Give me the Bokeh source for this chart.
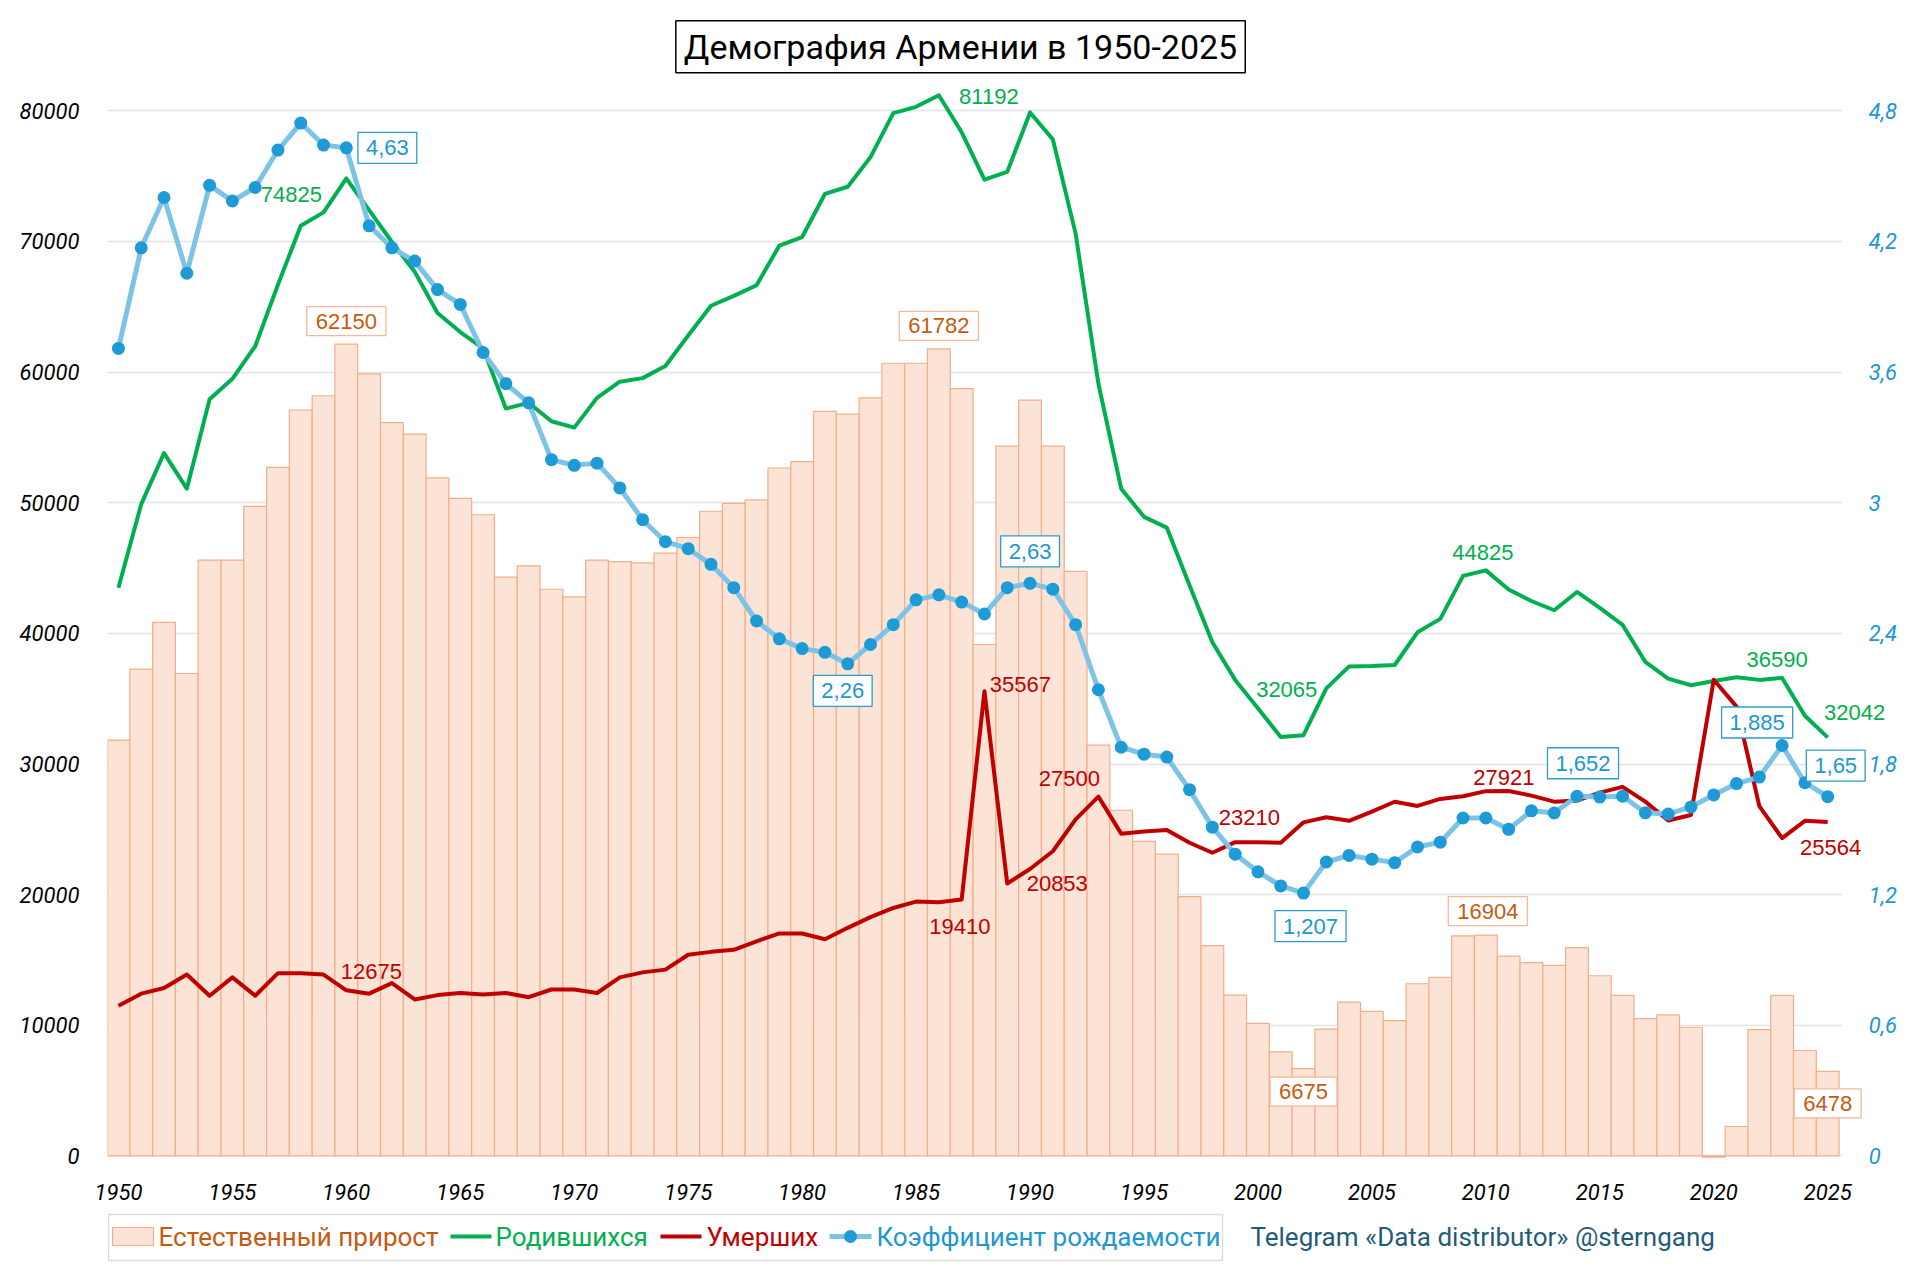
from bokeh.plotting import figure
from bokeh.models import (Range1d, LinearAxis, FixedTicker, NumeralTickFormatter, Label,
                          ColumnDataSource, BoxAnnotation)
from bokeh.layouts import column
from bokeh.embed import file_html
from bokeh.resources import INLINE
from bokeh.core.properties import value

# ---------------- data ----------------
years = list(range(1950, 2026))

births = [43490, 49890, 53800, 51080, 57920, 59490, 61980, 66700, 71200, 72230,
          74825, 72400, 69960, 67680, 64530, 63070, 61820, 57210, 57650, 56240,
          55750, 58030, 59270, 59540, 60470, 62800, 65080, 65840, 66650, 69690,
          70340, 73640, 74190, 76460, 79830, 80310, 81192, 78360, 74730, 75330,
          79880, 77820, 70600, 59110, 51080, 48920, 48100, 43660, 39320, 36440,
          34270, 32065, 32210, 35790, 37470, 37500, 37580, 40080, 41110, 44400,
          44825, 43360, 42480, 41770, 43170, 41950, 40650, 37810, 36540, 36030,
          36350, 36640, 36440, 36590, 33700, 32042]

deaths = [11500, 12420, 12850, 13880, 12260, 13670, 12260, 13990, 13990, 13880,
          12675, 12420, 13230, 11980, 12310, 12470, 12360, 12470, 12150, 12740,
          12740, 12470, 13670, 14050, 14260, 15400, 15620, 15780, 16430, 17030,
          17030, 16590, 17460, 18280, 18980, 19470, 19410, 19630, 35567, 20853,
          21960, 23320, 25760, 27500, 24670, 24840, 24950, 23970, 23210, 24020,
          24020, 23970, 25535, 25920, 25650, 26360, 27110, 26790, 27330, 27530,
          27921, 27930, 27580, 27120, 27200, 27810, 28250, 27120, 25680, 26100,
          36450, 34390, 26780, 24320, 25650, 25564]

natural = [31830, 37260, 40840, 36930, 45610, 45610, 49730, 52710, 57100, 58190,
           62150, 59870, 56130, 55260, 51900, 50330, 49080, 44310, 45170, 43380,
           42790, 45610, 45500, 45390, 46150, 47340, 49350, 49950, 50220, 52660,
           53150, 56990, 56780, 58030, 60680, 60680, 61782, 58730, 39150, 54340,
           57860, 54340, 44740, 31450, 26460, 24080, 23100, 19850, 16100, 12310,
           10140, 7970, 6675, 9710, 11770, 11060, 10360, 13180, 13670, 16850,
           16904, 15290, 14800, 14590, 15940, 13790, 12290, 10510, 10790, 9850,
           -100, 2250, 9660, 12290, 8070, 6478]

tfr = [3.709, 4.171, 4.402, 4.054, 4.458, 4.386, 4.448, 4.620, 4.744, 4.643,
       4.63, 4.272, 4.171, 4.110, 3.979, 3.911, 3.690, 3.547, 3.459, 3.198,
       3.172, 3.182, 3.068, 2.922, 2.821, 2.789, 2.717, 2.610, 2.457, 2.375,
       2.330, 2.313, 2.26, 2.349, 2.440, 2.554, 2.577, 2.544, 2.489, 2.610,
       2.63, 2.603, 2.440, 2.141, 1.877, 1.845, 1.832, 1.682, 1.510, 1.386,
       1.305, 1.240, 1.207, 1.350, 1.380, 1.363, 1.347, 1.419, 1.441, 1.552,
       1.552, 1.500, 1.585, 1.575, 1.652, 1.648, 1.652, 1.576, 1.570, 1.603,
       1.658, 1.710, 1.740, 1.885, 1.714, 1.65]

year_ticks = [1950, 1955, 1960, 1965, 1970, 1975, 1980, 1985, 1990, 1995,
              2000, 2005, 2010, 2015, 2020, 2025]
left_ticks = [0, 10000, 20000, 30000, 40000, 50000, 60000, 70000, 80000]
right_ticks = [0, 0.6, 1.2, 1.8, 2.4, 3.0, 3.6, 4.2, 4.8]
right_tick_labels = ["0", "0,6", "1,2", "1,8", "2,4", "3", "3,6", "4,2", "4,8"]

title = "Демография Армении в 1950-2025"
legend_names = ["Естественный прирост", "Родившихся", "Умерших", "Коэффициент рождаемости"]
credit = "Telegram «Data distributor» @sterngang"

# annotated points (year, label) and label offsets in px (dy: positive = down)
bar_lab_years = [1960, 1986, 2002, 2010, 2025]
bar_lab_text = ["62150", "61782", "6675", "16904", "6478"]
bar_lab_dx = [0, 0, 0, 2, 0]
bar_lab_dy = [-23, -23, 23, -24, 32]

birth_lab_years = [1960, 1986, 2001, 2010, 2023, 2025]
birth_lab_text = ["74825", "81192", "32065", "44825", "36590", "32042"]
birth_lab_dx = [-55, 50, 6, -3, -5, 27]
birth_lab_dy = [16, 1, -48, -18, -18, -25]

death_lab_years = [1960, 1986, 1988, 1989, 1993, 1998, 2010, 2025]
death_lab_text = ["12675", "19410", "35567", "20853", "27500", "23210", "27921", "25564"]
death_lab_dx = [25, 21, 36, 50, -29, 37, 18, 3]
death_lab_dy = [-19, 24, -7, 0, -18, -35, -14, 26]

tfr_lab_years = [1960, 1982, 1990, 2002, 2014, 2023, 2025]
tfr_lab_text = ["4,63", "2,26", "2,63", "1,207", "1,652", "1,885", "1,65"]
tfr_lab_dx = [41, -5, 0, 7, 6, -25, 8]
tfr_lab_dy = [0, 27, -32, 33, -33, -23, -31]

# ---------------- styles ----------------
C_BAR_FILL = "#FBE3D6"
C_BAR_LINE = "#F2AE8B"
C_BAR_TEXT = "#C55A11"
C_GREEN = "#00B050"
C_RED = "#C00000"
C_BLUE_LINE = "#7DC3E6"
C_BLUE_DOT = "#1E9AD6"
C_BLUE_TEXT = "#2196D3"
C_GRID = "#E3E3E3"

LBL_FONT = "Liberation Sans"
AX_FONT = "Roboto"

X_START = 1949.52
X_PLOT_END = 2025.66     # where the chart's plot area ends (right axis position)
X_FRAME_END = 2028.37    # extra room on the right for the value labels
Y_START = -1500
Y_END = 87300
TFR_PER_UNIT = 4.8 / 80000   # right axis 4,8 aligned with left axis 80000

p = figure(width=1904, height=1205,
           x_range=Range1d(X_START, X_FRAME_END), y_range=Range1d(Y_START, Y_END),
           output_backend="svg", toolbar_location=None,
           min_border_left=107, min_border_right=0, min_border_top=15, min_border_bottom=30)
p.extra_y_ranges = {"tfr": Range1d(Y_START * TFR_PER_UNIT, Y_END * TFR_PER_UNIT)}
p.outline_line_color = None
p.background_fill_color = "white"
p.border_fill_color = "white"

p.xgrid.visible = False
p.ygrid.ticker = FixedTicker(ticks=left_ticks)
p.ygrid.grid_line_color = C_GRID
p.ygrid.grid_line_width = 1.5
# grid lines stop at the plot area's right edge
p.add_layout(BoxAnnotation(left=X_PLOT_END, fill_color="white", fill_alpha=1.0,
                           line_alpha=0, level="underlay"))

# axes
p.xaxis.ticker = FixedTicker(ticks=year_ticks)
p.xaxis.axis_line_color = None
p.xaxis.major_tick_line_color = None
p.xaxis.minor_tick_line_color = None
p.xaxis.major_label_standoff = 2
p.xaxis.major_label_text_font = AX_FONT
p.xaxis.major_label_text_font_style = "italic"
p.xaxis.major_label_text_font_size = "22px"
p.xaxis.major_label_text_color = "black"

p.yaxis.ticker = FixedTicker(ticks=left_ticks)
p.yaxis.formatter = NumeralTickFormatter(format="0")
p.yaxis.axis_line_color = None
p.yaxis.major_tick_line_color = None
p.yaxis.minor_tick_line_color = None
p.yaxis.major_label_standoff = 22
p.yaxis.major_label_text_font = AX_FONT
p.yaxis.major_label_text_font_style = "italic"
p.yaxis.major_label_text_font_size = "22px"
p.yaxis.major_label_text_color = "black"

raxis = LinearAxis(y_range_name="tfr", ticker=FixedTicker(ticks=right_ticks),
                   fixed_location=X_PLOT_END,
                   major_label_overrides={t: s for t, s in zip(right_ticks, right_tick_labels)})
raxis.axis_line_color = None
raxis.major_tick_line_color = None
raxis.minor_tick_line_color = None
raxis.major_label_standoff = 20
raxis.major_label_text_align = "left"
raxis.major_label_text_font = AX_FONT
raxis.major_label_text_font_style = "italic"
raxis.major_label_text_font_size = "22px"
raxis.major_label_text_color = C_BLUE_TEXT
p.add_layout(raxis, "right")

src = ColumnDataSource(dict(year=years, births=births, deaths=deaths, natural=natural, tfr=tfr))

p.vbar(x="year", top="natural", width=1.0, source=src,
       fill_color=C_BAR_FILL, line_color=C_BAR_LINE, line_width=1.2)
p.line("year", "births", source=src, line_color=C_GREEN, line_width=4, line_join="round")
p.line("year", "deaths", source=src, line_color=C_RED, line_width=4, line_join="round")
p.line("year", "tfr", source=src, y_range_name="tfr", line_color=C_BLUE_LINE, line_width=5, line_join="round")
p.scatter("year", "tfr", source=src, y_range_name="tfr", size=13, fill_color=C_BLUE_DOT, line_color=None)


def add_labels(yrs, texts, dx, dy, series, color, box_color, pad, range_name="default"):
    for yr, t, ox, oy in zip(yrs, texts, dx, dy):
        kw = dict(x=yr, y=series[years.index(yr)], text=t, x_offset=ox, y_offset=-oy,
                  text_align="center", text_baseline="middle", text_font=LBL_FONT,
                  text_font_size="22px", text_color=color)
        if box_color:
            kw.update(background_fill_color="white", border_line_color=box_color,
                      border_line_width=1.3, padding=pad)
        if range_name != "default":
            kw["y_range_name"] = range_name
        p.add_layout(Label(**kw))


add_labels(bar_lab_years, bar_lab_text, bar_lab_dx, bar_lab_dy, natural, C_BAR_TEXT, "#F4B89A",
           dict(left=9, right=9, top=7, bottom=7))
add_labels(birth_lab_years, birth_lab_text, birth_lab_dx, birth_lab_dy, births, C_GREEN, None, 0)
add_labels(death_lab_years, death_lab_text, death_lab_dx, death_lab_dy, deaths, C_RED, None, 0)
add_labels(tfr_lab_years, tfr_lab_text, tfr_lab_dx, tfr_lab_dy, tfr, C_BLUE_TEXT, "#2C9CD6",
           dict(left=8, right=8, top=8, bottom=8), "tfr")

p.add_layout(Label(x=1986.95, y=84900, text=title, text_align="center", text_baseline="middle",
                   text_font="Roboto", text_font_size="34px", text_color="black",
                   background_fill_color="white", border_line_color="black", border_line_width=1.5,
                   padding=dict(left=8, right=8, top=6, bottom=6)))

# ---------------- legend strip (x in page pixels) ----------------
q = figure(width=1904, height=58, x_range=Range1d(108, 1905), y_range=Range1d(0, 58),
           output_backend="svg", toolbar_location=None,
           min_border_left=107, min_border_right=0, min_border_top=0, min_border_bottom=0,
           x_axis_location=None, y_axis_location=None)
q.grid.visible = False
q.outline_line_color = None
q.background_fill_color = "white"
q.border_fill_color = "white"

q.quad(left=[109], right=[1223], bottom=[3], top=[49], fill_color="white", line_color="#DCDCDC", line_width=1.5)
q.quad(left=[113], right=[154], bottom=[18], top=[36], fill_color=C_BAR_FILL, line_color=C_BAR_LINE, line_width=1.2)
q.line(x=[451, 492], y=[27, 27], line_color=C_GREEN, line_width=4)
q.line(x=[661, 702], y=[27, 27], line_color=C_RED, line_width=4)
q.line(x=[830, 872], y=[27, 27], line_color=C_BLUE_LINE, line_width=5)
q.scatter(x=[851], y=[27], size=13, fill_color=C_BLUE_DOT, line_color=None)
leg_x = [159, 496, 707, 877]
leg_colors = [C_BAR_TEXT, C_GREEN, C_RED, C_BLUE_TEXT]
q.text(x=leg_x, y=[27] * 4, text=legend_names, text_color=leg_colors, text_align="left",
       text_baseline="middle", text_font=value("Roboto"), text_font_size="26px")
q.text(x=[1251], y=[27], text=[credit], text_color="#1F5C7A", text_align="left",
       text_baseline="middle", text_font=value("Roboto"), text_font_size="26px")

layout = column(p, q, spacing=0)
open("out.html", "w").write(file_html(layout, INLINE))
